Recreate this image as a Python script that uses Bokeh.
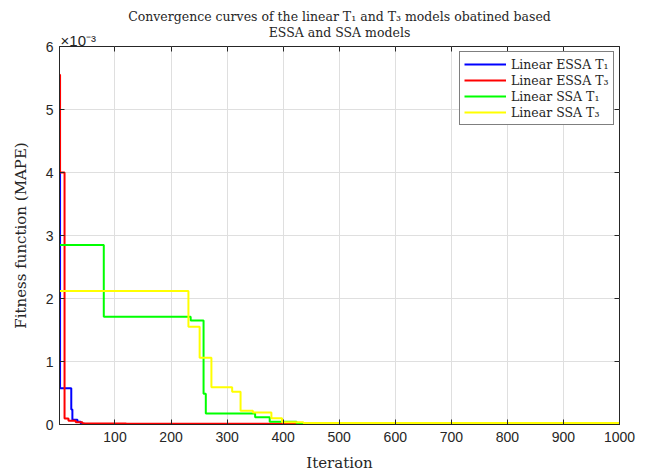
from bokeh.plotting import figure
from bokeh.models import (FixedTicker, CustomJSTickFormatter, LinearAxis,
                          Legend, LegendItem, Range1d, Title)
from bokeh.embed import file_html
from bokeh.resources import INLINE

# ---- data (step curves: iteration where a new best value starts, value) ----
essa_t1_iter = [1, 2, 22, 24, 33, 39, 46, 1000]
essa_t1_val = [4.0e-3, 0.575e-3, 0.24e-3, 0.075e-3, 0.045e-3, 0.012e-3, 0.002e-3, 0.002e-3]

essa_t3_iter = [1, 2, 10, 17, 30, 42, 120, 1000]
essa_t3_val = [5.55e-3, 4.0e-3, 0.095e-3, 0.06e-3, 0.035e-3, 0.015e-3, 0.012e-3, 0.012e-3]

ssa_t1_iter = [1, 80, 235, 258, 262, 350, 376, 424, 480, 1000]
ssa_t1_val = [2.85e-3, 1.71e-3, 1.65e-3, 0.49e-3, 0.175e-3, 0.115e-3, 0.045e-3, 0.02e-3, 0.008e-3, 0.008e-3]

ssa_t3_iter = [1, 231, 251, 272, 309, 324, 346, 379, 398, 436, 1000]
ssa_t3_val = [2.12e-3, 1.55e-3, 1.06e-3, 0.59e-3, 0.52e-3, 0.22e-3, 0.19e-3, 0.10e-3, 0.037e-3, 0.025e-3, 0.025e-3]

x_ticks = [100, 200, 300, 400, 500, 600, 700, 800, 900, 1000]
y_ticks = [0, 0.001, 0.002, 0.003, 0.004, 0.005, 0.006]

series = [
    ("Linear ESSA T\u2081", essa_t1_iter, essa_t1_val, "#0000FF"),
    ("Linear ESSA T\u2083", essa_t3_iter, essa_t3_val, "#FF0000"),
    ("Linear SSA T\u2081", ssa_t1_iter, ssa_t1_val, "#00FF00"),
    ("Linear SSA T\u2083", ssa_t3_iter, ssa_t3_val, "#FFFF00"),
]

title_line1 = "Convergence curves of the linear T\u2081 and T\u2083 models obatined based"
title_line2 = "ESSA and SSA models"
exponent_text = "\u00d710\u207b\u00b3"
# the axis label is centred on the axis start; pad on the left so it starts at the axis
exponent_label = "\u00a0" * 9 + exponent_text

SERIF = "DejaVu Serif"
SANS = "Liberation Sans"
INK = "#262626"

p = figure(title=None, output_backend="svg", toolbar_location=None,
           x_range=Range1d(1, 1000), y_range=Range1d(0, 0.006),
           frame_width=560, frame_height=378,
           min_border_left=59, min_border_right=26, min_border_top=46, min_border_bottom=48)

p.background_fill_color = "white"
p.border_fill_color = "white"
p.outline_line_color = INK
p.outline_line_width = 1

items = []
for name, xs, ys, col in series:
    r = p.step(xs, ys, mode="after", line_color=col, line_width=2)
    items.append(LegendItem(label=name, renderers=[r]))

legend = Legend(items=items, location=(400, 299))
legend.padding = 4
legend.spacing = 0
legend.glyph_width = 42
legend.glyph_height = 16
legend.label_height = 16
legend.label_standoff = 5
legend.label_text_font = SERIF
legend.label_text_font_size = "12.5px"
legend.label_text_color = INK
legend.border_line_color = "black"
legend.border_line_width = 1
legend.background_fill_color = "white"
legend.background_fill_alpha = 1
p.add_layout(legend, "center")

# axes
xa = p.xaxis[0]
xa.ticker = FixedTicker(ticks=x_ticks)
xa.axis_label = "Iteration"
ya = p.yaxis[0]
ya.ticker = FixedTicker(ticks=y_ticks)
ya.formatter = CustomJSTickFormatter(code="return (tick*1000).toFixed(0);")
ya.axis_label = "Fitness function (MAPE)"
for ax in (xa, ya):
    ax.axis_line_color = INK
    ax.major_tick_in = 5
    ax.major_tick_out = 0
    ax.major_tick_line_color = INK
    ax.minor_tick_line_color = None
    ax.major_label_text_font = SANS
    ax.major_label_text_font_size = "14px"
    ax.major_label_text_color = INK
    ax.axis_label_text_font = SERIF
    ax.axis_label_text_font_size = "15px"
    ax.axis_label_text_font_style = "normal"
    ax.axis_label_text_color = INK
xa.major_label_standoff = 7
xa.axis_label_standoff = 9
ya.major_label_standoff = 6
ya.axis_label_standoff = 13

# box ticks on top (with the exponent as its label) and right
top_ax = LinearAxis(ticker=FixedTicker(ticks=x_ticks),
                    formatter=CustomJSTickFormatter(code="return '';"),
                    major_tick_in=5, major_tick_out=0, minor_tick_line_color=None,
                    major_tick_line_color=INK, axis_line_color=None,
                    major_label_standoff=0,
                    axis_label=exponent_label, axis_label_standoff=-2,
                    axis_label_text_font=SANS, axis_label_text_font_size="15px",
                    axis_label_text_font_style="normal", axis_label_text_color=INK)
top_ax.axis_label_align = "start"
p.add_layout(top_ax, "above")

right_ax = LinearAxis(ticker=FixedTicker(ticks=y_ticks),
                      formatter=CustomJSTickFormatter(code="return '';"),
                      major_tick_in=5, major_tick_out=0, minor_tick_line_color=None,
                      major_tick_line_color=INK, axis_line_color=None,
                      major_label_standoff=0)
p.add_layout(right_ax, "right")

# two centred title lines (second line shares its row with the exponent)
t2 = Title(text=title_line2, align="center", text_font=SERIF, text_font_size="12.5px",
           text_font_style="normal", text_color=INK, standoff=-23)
p.add_layout(t2, "above")
t1 = Title(text=title_line1, align="center", text_font=SERIF, text_font_size="12.5px",
           text_font_style="normal", text_color=INK, standoff=10)
p.add_layout(t1, "above")

p.grid.grid_line_color = "#DFDFDF"
p.grid.grid_line_width = 1
p.xgrid.ticker = FixedTicker(ticks=x_ticks)
p.ygrid.ticker = FixedTicker(ticks=y_ticks)

open("out.html", "w").write(file_html(p, INLINE))
